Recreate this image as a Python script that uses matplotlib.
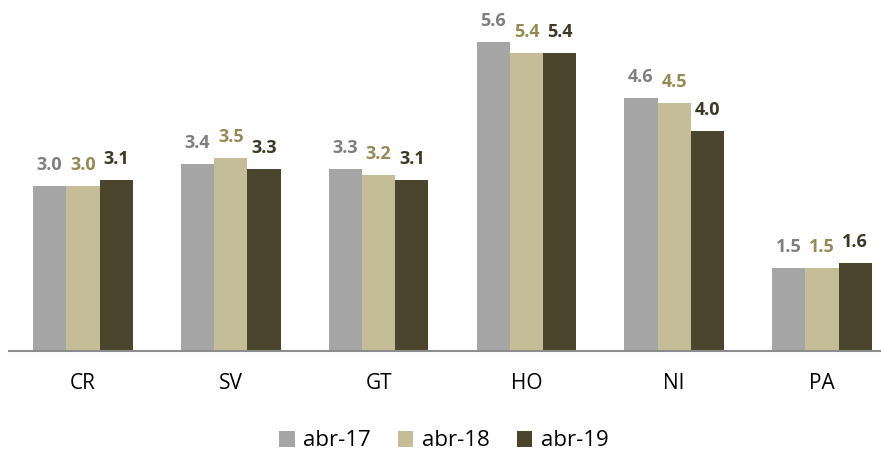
import numpy as np
import matplotlib.pyplot as plt

paises = ["CR", "SV", "GT", "HO", "NI", "PA"]
series = ["abr-17", "abr-18", "abr-19"]
abr17 = [3.0, 3.4, 3.3, 5.6, 4.6, 1.5]
abr18 = [3.0, 3.5, 3.2, 5.4, 4.5, 1.5]
abr19 = [3.1, 3.3, 3.1, 5.4, 4.0, 1.6]

colores = ["#A5A5A5", "#C4BD97", "#4A452C"]
colores_txt = ["#7F7F7F", "#948A54", "#3B3823"]

plt.rcParams["font.family"] = ["Open Sans", "DejaVu Sans"]

fig = plt.figure(figsize=(8.81, 4.53), dpi=100)
# eje un poco más ancho que la figura: el último grupo queda pegado al borde
ax = fig.add_axes([9 / 881, 0.225, 887 / 881, 0.73])

x = np.arange(len(paises))
ancho = 0.225
for i, (nombre, vals) in enumerate(zip(series, [abr17, abr18, abr19])):
    pos = x + (i - 1) * ancho
    ax.bar(pos, vals, width=ancho, color=colores[i], label=nombre)
    for xp, v in zip(pos, vals):
        ax.annotate(f"{v:.1f}", (xp, v), xytext=(0, 11.5), textcoords="offset points",
                    ha="center", va="baseline", fontsize=13, fontweight="bold",
                    color=colores_txt[i])

ax.set_xlim(-0.5, len(paises) - 0.5)
ax.set_ylim(0, 6.0)
ax.set_xticks(x)
ax.set_xticklabels(paises, fontsize=15)
ax.tick_params(axis="x", length=0, pad=16)
ax.set_yticks([])
for lado in ["top", "right", "left"]:
    ax.spines[lado].set_visible(False)
ax.spines["bottom"].set_color("#8C8C8C")
ax.spines["bottom"].set_linewidth(1.5)

fig.legend(loc="center", bbox_to_anchor=(444 / 881, 1 - 441 / 453), ncol=3, frameon=False,
           fontsize=16, handlelength=0.7, handleheight=0.7, handletextpad=0.4,
           columnspacing=1.2)

fig.savefig("out.png", dpi=100)
